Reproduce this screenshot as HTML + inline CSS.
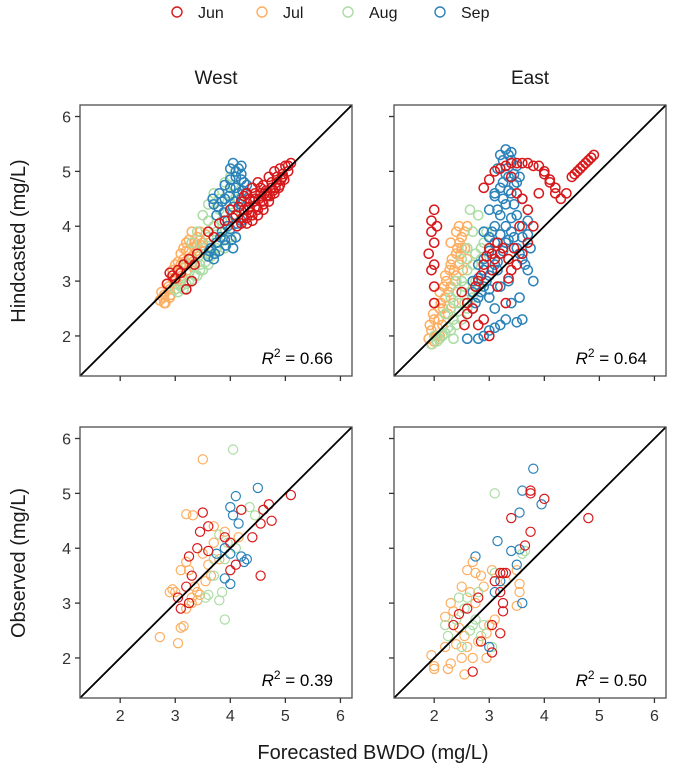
<!DOCTYPE html>
<html><head><meta charset="utf-8"><style>
body{margin:0;background:#fff;}
svg text{font-family:"Liberation Sans",Arial,sans-serif;}
</style></head><body>
<svg id="chart" width="673" height="772" xmlns="http://www.w3.org/2000/svg"></svg>
<script>
// ---- data ----
const months = ["Jun","Jul","Aug","Sep"];
const monthColors = ["#d7191c","#fdae61","#abdda4","#2b83ba"];
const xTicks = [2,3,4,5,6];
const yTicks = [2,3,4,5,6];
const r2Labels = ["0.66","0.64","0.39","0.50"];
const panelNames = ["west-hindcast","east-hindcast","west-observed","east-observed"];

// West hindcast
const whJunX=[2.85,2.95,3.05,3.15,3.25,3.3,3.2,3.4,3.6,3.9,4.0,4.1,4.2,4.25,4.3,4.35,4.4,4.45,4.5,4.55,4.6,4.65,4.7,4.75,4.8,4.85,4.9,4.95,5.0,5.05,5.1,4.3,4.4,4.5,4.6,4.7,4.8,4.9,4.2,4.3,4.4,4.5,4.6,
 4.05,4.15,4.25,4.35,4.45,4.55,4.65,4.75,4.85,4.95,5.05,4.12,4.22,4.32,4.42,4.52,4.62,4.72,4.82,4.92,4.38,4.48,4.58,4.68,4.78,4.88,4.98,3.0,3.1,3.35,2.9,3.8,3.7];
const whJunY=[2.95,3.1,3.2,3.3,3.4,3.0,2.85,3.5,3.9,4.1,4.3,4.2,4.45,4.3,4.6,4.35,4.7,4.5,4.8,4.6,4.75,4.55,4.9,4.7,5.0,4.8,5.05,4.9,5.1,5.0,5.15,4.15,4.2,4.3,4.4,4.45,4.6,4.75,4.05,4.05,4.1,4.2,4.3,
 4.15,4.35,4.55,4.5,4.6,4.7,4.65,4.8,4.9,4.95,5.1,4.0,4.15,4.3,4.45,4.5,4.6,4.55,4.7,4.85,4.25,4.35,4.45,4.55,4.65,4.7,4.85,3.05,3.15,3.3,3.15,4.05,3.8];
const whJulX=[2.72,2.75,2.8,2.85,2.9,2.95,3.0,3.05,3.1,3.15,3.2,3.25,3.3,3.35,3.4,3.45,3.5,3.55,3.6,2.8,2.9,3.0,3.1,3.2,3.3,3.4,3.5,3.2,3.1,3.0,3.3,3.4,
 2.78,2.88,2.98,3.08,3.18,3.28,3.38,3.48,2.82,2.92,3.02,3.12,3.22,3.32,3.42,3.52,3.15,3.25,3.35,3.05,2.95,3.45];
const whJulY=[2.65,2.8,2.6,2.95,2.7,3.05,2.85,3.2,3.0,3.4,3.15,3.55,3.3,3.6,3.5,3.75,3.7,3.85,3.9,2.75,2.85,3.0,3.3,3.55,3.45,3.8,3.6,3.7,3.5,3.3,3.9,3.65,
 2.7,2.9,3.0,3.15,3.3,3.4,3.55,3.65,2.6,2.75,2.95,3.1,3.2,3.35,3.45,3.55,3.6,3.75,3.7,3.35,3.2,3.9];
const whAugX=[3.0,3.1,3.2,3.3,3.4,3.5,3.6,3.7,3.8,3.9,4.0,4.1,3.2,3.3,3.4,3.5,3.6,3.7,3.8,3.5,3.6,3.7,3.9,4.0,4.1,4.15,3.4,3.3,3.9,4.0,
 3.05,3.15,3.25,3.35,3.45,3.55,3.65,3.75,3.85,3.95,4.05,3.25,3.45,3.65,3.85,3.55,3.75,3.95,4.05,3.6,3.8];
const whAugY=[2.85,2.9,2.95,3.0,3.1,3.2,3.3,3.5,3.7,3.9,4.4,4.7,3.3,3.4,3.5,3.6,3.8,4.0,4.3,4.2,4.4,4.6,4.8,4.9,5.0,4.5,3.9,3.7,3.6,3.8,
 2.8,2.85,3.0,3.1,3.2,3.35,3.45,3.6,3.8,4.0,4.2,3.15,3.3,3.55,4.1,3.5,3.9,4.6,4.75,4.1,4.5];
const whSepX=[3.6,3.65,3.7,3.75,3.8,3.85,3.9,3.95,4.0,4.05,4.1,4.15,4.2,4.25,4.3,3.7,3.8,3.9,4.0,4.1,4.2,4.05,4.1,4.15,4.2,4.25,3.75,3.85,3.95,4.1,4.2,4.05,
 3.62,3.72,3.82,3.92,4.02,4.12,4.22,3.68,3.78,3.88,3.98,4.08,4.18,4.28,4.0,4.1,4.2,3.9,4.0,4.12];
const whSepY=[3.45,3.6,3.4,3.7,3.55,3.9,3.75,4.1,3.95,4.35,4.2,4.6,4.5,4.8,4.75,4.4,4.6,4.5,4.7,5.0,5.1,5.15,4.9,5.05,4.95,4.3,4.2,4.45,4.0,3.8,4.1,3.6,
 3.55,3.5,3.8,3.65,3.75,4.0,4.65,4.5,4.35,4.25,4.55,4.45,4.4,4.6,4.85,4.7,4.85,4.75,5.05,4.05];

// East hindcast
const ehJunX=[2.0,1.95,1.95,2.0,1.9,1.95,2.0,2.0,2.9,3.1,3.3,3.5,3.7,3.9,4.0,4.1,4.2,4.3,4.5,4.6,4.7,4.8,4.9,3.4,3.5,3.6,3.7,3.8,3.7,3.6,3.5,3.4,2.8,2.9,3.0,3.1,3.2,2.85,3.05,3.15,3.0,2.8,2.9,2.6,2.5,3.3,3.9,4.1,
 2.05,2.0,3.0,3.2,3.4,3.6,3.8,4.0,4.2,4.4,4.55,4.65,4.75,4.85,2.95,3.05,3.15,3.25,3.35,2.75,2.7,2.6,2.55,3.35,3.45,3.55];
const ehJunY=[4.3,4.1,3.9,3.7,3.5,3.2,2.9,2.6,4.7,5.0,5.1,5.15,5.15,5.1,4.95,4.8,4.6,4.5,4.9,5.0,5.1,5.2,5.3,4.9,4.6,4.5,4.3,4.0,3.7,3.5,3.3,3.2,3.0,3.3,3.6,3.4,3.5,3.1,3.2,2.9,2.0,2.2,2.3,2.6,2.8,2.6,4.6,4.85,
 4.0,3.3,4.85,5.05,5.15,5.15,5.1,5.0,4.7,4.6,4.95,5.05,5.15,5.25,3.45,3.5,3.7,3.6,3.4,2.9,2.5,2.4,2.2,3.05,3.6,4.0];
const ehJulX=[1.9,1.95,2.0,2.05,2.1,2.15,2.2,2.25,2.3,2.35,2.4,2.45,2.5,2.55,2.6,2.0,2.1,2.2,2.3,2.4,2.5,2.3,2.4,2.45,2.2,2.1,2.0,2.6,
 1.92,1.98,2.02,2.08,2.12,2.18,2.22,2.28,2.32,2.38,2.42,2.48,2.52,1.96,2.06,2.16,2.26,2.36,2.46,2.56];
const ehJulY=[1.95,2.1,2.3,2.0,2.5,2.2,2.7,2.4,2.9,2.6,3.1,3.3,3.6,3.9,4.0,2.6,2.8,3.1,3.3,3.5,3.8,3.7,3.9,4.0,2.4,2.0,1.9,3.4,
 2.2,2.4,2.0,2.3,2.6,2.9,3.0,3.2,3.4,3.0,3.6,3.5,3.2,1.85,2.15,2.5,2.8,3.2,3.7,3.6];
const ehAugX=[1.95,2.0,2.1,2.2,2.3,2.4,2.5,2.6,2.7,2.8,2.9,2.5,2.6,2.7,2.8,2.4,2.3,2.2,2.65,2.75,2.55,2.45,2.85,2.35,
 2.05,2.15,2.25,2.35,2.45,2.55,2.65,2.75,2.85,2.6,2.7,2.5,2.4,2.3,2.9,2.95];
const ehAugY=[1.85,2.0,1.95,2.05,2.1,2.2,2.3,2.5,2.7,2.9,3.2,3.4,3.6,3.9,4.2,3.0,2.7,2.4,4.3,3.5,2.9,2.6,3.6,1.95,
 1.9,2.0,2.15,2.3,2.45,2.6,2.8,3.0,3.4,3.2,3.3,3.0,2.8,2.5,3.7,3.9];
const ehSepX=[2.6,2.8,2.9,3.0,3.1,3.2,3.3,3.5,3.6,2.7,2.8,2.9,3.0,3.1,3.2,3.3,3.4,3.5,3.6,3.7,3.8,3.0,3.1,3.2,3.3,3.4,3.5,3.6,3.7,3.2,3.3,3.4,3.5,3.1,3.0,2.9,3.25,3.45,3.35,3.55,2.8,3.0,3.2,3.4,3.6,2.7,3.15,3.35,
 2.75,2.85,2.95,3.05,3.15,3.25,3.35,3.45,3.55,3.65,3.75,2.9,3.0,3.1,3.2,3.3,3.4,3.5,3.6,3.7,3.05,3.15,3.25,3.35,3.45,3.55,3.1,3.2,3.3,3.4,3.15,3.25,3.35,3.45,2.7,2.8,2.9,3.0,3.1];
const ehSepY=[1.95,1.95,2.0,2.1,2.15,2.2,2.3,2.25,2.3,2.5,2.7,2.9,3.1,3.3,3.5,3.7,3.9,3.6,3.4,3.2,3.0,3.8,4.0,4.2,4.4,4.6,4.8,4.5,4.1,5.3,5.4,5.35,5.1,4.6,4.3,3.9,4.8,4.4,3.0,2.7,3.3,2.7,2.9,2.6,3.8,3.0,3.2,4.9,
 2.6,2.8,3.0,3.2,3.35,3.55,3.75,3.8,3.5,3.3,3.6,3.4,3.55,3.7,3.85,4.0,4.15,4.2,4.0,3.85,3.9,4.3,4.5,4.65,4.75,4.9,4.55,4.7,4.95,5.2,5.05,5.2,5.3,4.95,2.8,3.05,3.2,2.85,2.5];

// West observed
const woJunX=[5.1,4.2,4.6,4.75,4.55,4.4,4.55,3.5,3.6,3.45,3.4,3.9,4.0,3.25,3.3,3.2,3.05,3.1,3.25,3.6,4.0,4.1,4.7];
const woJunY=[4.97,4.7,4.7,4.5,4.45,4.2,3.5,4.65,4.4,4.3,4.0,4.2,4.1,3.85,3.5,3.3,3.1,2.9,3.0,3.95,3.6,3.7,4.8];
const woJulX=[2.72,3.05,2.9,2.95,3.1,3.2,3.32,3.5,3.2,3.25,3.35,3.4,3.3,3.2,3.15,3.1,3.5,3.6,3.7,3.8,3.4,3.45,3.3,3.55,3.65,3.9,4.15,4.2,3.7,3.0];
const woJulY=[2.38,2.27,3.2,3.25,3.6,4.62,4.6,5.62,3.75,3.6,3.3,3.2,3.0,2.9,2.58,2.55,3.9,3.7,4.1,3.8,3.05,3.15,3.1,3.4,3.5,4.3,4.2,4.7,4.4,3.2];
const woAugX=[4.05,3.9,3.8,3.85,3.6,3.7,4.35,4.45,3.9,3.8,3.95,4.1,3.7,3.55];
const woAugY=[5.8,2.7,3.05,3.2,3.15,3.5,4.75,4.6,3.8,4.25,4.1,4.0,3.8,3.1];
const woSepX=[4.5,4.1,4.0,4.05,4.15,3.9,4.0,4.2,4.25,4.3,3.75,3.9,4.0];
const woSepY=[5.1,4.95,4.75,4.6,4.45,4.0,3.9,3.85,3.75,3.8,3.9,3.45,3.35];

// East observed
const eoJunX=[3.75,3.75,4.0,4.8,3.4,3.75,3.65,3.2,3.25,3.3,3.1,3.2,3.25,3.25,2.8,2.6,2.35,3.05,3.2,2.85,3.05,2.7,2.45];
const eoJunY=[5.05,5.0,4.9,4.55,4.55,4.3,4.05,3.55,3.55,3.55,3.4,3.2,3.0,2.85,3.1,2.9,2.6,2.6,2.45,2.3,2.1,1.75,2.8];
const eoJulX=[1.95,2.0,2.0,2.25,2.3,2.55,2.5,2.7,2.95,2.2,2.4,2.6,2.8,2.2,2.3,2.35,2.5,2.6,2.7,2.75,2.85,2.9,2.65,2.75,2.45,2.55,3.1,3.0,3.05,3.5,3.55,3.55,3.5,3.3,2.95];
const eoJulY=[2.05,1.85,1.8,1.8,1.9,1.7,2.0,2.0,2.0,2.2,2.25,2.2,2.3,2.75,3.0,2.85,3.3,3.6,3.75,3.55,3.5,3.3,3.2,3.0,2.55,2.4,2.7,2.6,3.6,3.6,3.2,3.35,2.95,3.4,2.45];
const eoAugX=[3.1,3.65,3.6,2.25,2.2,2.4,2.55,2.6,2.8,2.7,2.85,2.9,3.05,2.5,2.65,2.75,3.1,2.45];
const eoAugY=[5.0,3.95,3.9,2.4,2.6,2.7,2.9,3.1,3.2,2.6,2.4,2.6,2.2,2.2,2.5,2.7,3.55,3.1];
const eoSepX=[3.8,3.6,3.95,3.55,3.15,3.4,3.55,3.5,2.75,3.2,3.1,3.6,3.0];
const eoSepY=[5.45,5.05,4.8,4.65,4.13,3.95,3.98,3.7,3.85,3.4,3.2,3.0,2.2];

const panelSeriesX=[[whJunX,whJulX,whAugX,whSepX],[ehJunX,ehJulX,ehAugX,ehSepX],[woJunX,woJulX,woAugX,woSepX],[eoJunX,eoJulX,eoAugX,eoSepX]];
const panelSeriesY=[[whJunY,whJulY,whAugY,whSepY],[ehJunY,ehJulY,ehAugY,ehSepY],[woJunY,woJulY,woAugY,woSepY],[eoJunY,eoJulY,eoAugY,eoSepY]];

// ---- layout ----
const NS="http://www.w3.org/2000/svg";
const svg=document.getElementById('chart');
const dMin=1.27,dMax=6.21;
const panels=[{x:80,y:105},{x:394,y:105},{x:80,y:427},{x:394,y:427}];
const PW=272,PH=271;
function mk(tag,attrs,parent){const e=document.createElementNS(NS,tag);for(const k in attrs)e.setAttribute(k,attrs[k]);(parent||svg).appendChild(e);return e;}
function sx(p,v){return p.x+(v-dMin)/(dMax-dMin)*PW;}
function sy(p,v){return p.y+PH-(v-dMin)/(dMax-dMin)*PH;}

// legend
const legX=[177,262,348,440];
months.forEach((m,i)=>{
  const g=mk('g',{});
  
  
  mk('circle',{cx:legX[i],cy:12,r:5,fill:'none',stroke:monthColors[i],'stroke-width':1.4},g);
  const t=mk('text',{x:legX[i]+21,y:18,'font-size':16,fill:'#1a1a1a'},g);t.textContent=m;
});

// strip titles
[["West",216],["East",530]].forEach(([s,x])=>{
  const t=mk('text',{x:x,y:84,'font-size':19,'text-anchor':'middle',fill:'#1a1a1a'});
  
  
  t.textContent=s;
});

// axis titles
const yt1=mk('text',{x:0,y:0,'font-size':20,'text-anchor':'middle',fill:'#1a1a1a',transform:'translate(25,241) rotate(-90)'});


yt1.textContent='Hindcasted (mg/L)';
const yt2=mk('text',{x:0,y:0,'font-size':20,'text-anchor':'middle',fill:'#1a1a1a',transform:'translate(25,563) rotate(-90)'});


yt2.textContent='Observed (mg/L)';
const xt=mk('text',{x:373,y:759,'font-size':20,'text-anchor':'middle',fill:'#1a1a1a'});


xt.textContent='Forecasted BWDO (mg/L)';

panels.forEach((p,pi)=>{
  const g=mk('g',{});
  
  
  const clipId='clip'+pi;
  const cp=mk('clipPath',{id:clipId},g);mk('rect',{x:p.x,y:p.y,width:PW,height:PH},cp);
  const pts=mk('g',{'clip-path':'url(#'+clipId+')'},g);
  const order=[1,2,3,0];
  const sw=pi<2?1.5:1.2;
  order.forEach(si=>{
    const xs=panelSeriesX[pi][si],ys=panelSeriesY[pi][si];
    xs.forEach((v,k)=>{
      const c=mk('circle',{cx:sx(p,v),cy:sy(p,ys[k]),r:4.6,fill:'none',stroke:monthColors[si],'stroke-width':sw},pts);
      
      
    });
  });
  const ln=mk('line',{x1:sx(p,dMin),y1:sy(p,dMin),x2:sx(p,dMax),y2:sy(p,dMax),stroke:'#000','stroke-width':1.8,'clip-path':'url(#'+clipId+')'},g);
  
  
  const fr=mk('rect',{x:p.x,y:p.y,width:PW,height:PH,fill:'none',stroke:'#4d4d4d','stroke-width':1.3},g);
  
  
  xTicks.forEach(v=>{
    const X=sx(p,v);
    mk('line',{x1:X,y1:p.y+PH,x2:X,y2:p.y+PH+5,stroke:'#333','stroke-width':1.3},g);
    if(pi>=2){const t=mk('text',{x:X,y:p.y+PH+23,'font-size':16,'text-anchor':'middle',fill:'#333'},g);t.textContent=v;
      
      }
  });
  yTicks.forEach(v=>{
    const Y=sy(p,v);
    mk('line',{x1:p.x-5,y1:Y,x2:p.x,y2:Y,stroke:'#333','stroke-width':1.3},g);
    if(pi%2===0){const t=mk('text',{x:p.x-9,y:Y+6,'font-size':16,'text-anchor':'end',fill:'#333'},g);t.textContent=v;
      
      }
  });
  const rt=mk('text',{x:p.x+PW-19,y:p.y+PH-12,'font-size':17,'text-anchor':'end',fill:'#000'},g);
  
  
  const i1=mk('tspan',{'font-style':'italic'},rt);i1.textContent='R';
  const i2=mk('tspan',{dy:-7,'font-size':12},rt);i2.textContent='2';
  const i3=mk('tspan',{dy:7},rt);i3.textContent=' = '+r2Labels[pi];
});
</script>
</body></html>
